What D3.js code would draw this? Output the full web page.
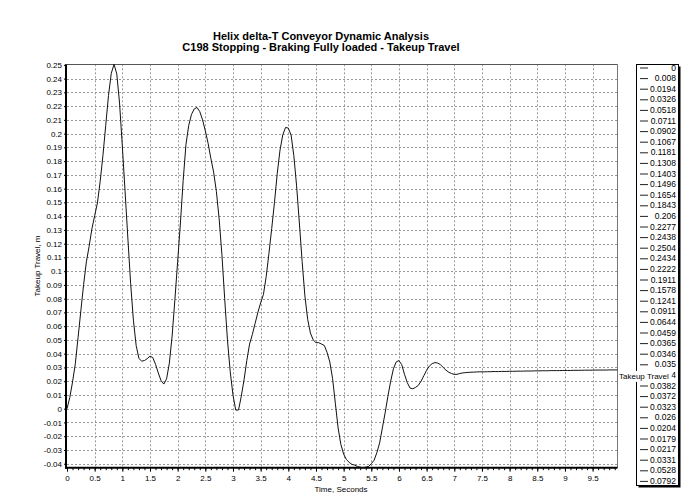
<!DOCTYPE html>
<html>
<head>
<meta charset="utf-8">
<script src="https://cdn.jsdelivr.net/npm/d3@7"></script>
<style>
  body { margin: 0; background: #fff; }
  svg { display: block; font-family: "Liberation Sans", Arial, sans-serif; }
  .tick text { font-size: 8px; fill: #000; }
  .tick line { stroke: #000; }
</style>
</head>
<body>
<div id="chart"></div>
<script>
// takeup travel (m), one sample every 0.05 s
var dt = 0.05;
var takeupStart = [0, 0.008, 0.0194, 0.0326, 0.0518, 0.0711, 0.0902, 0.1067, 0.1181, 0.1308,
  0.1403, 0.1496, 0.1654, 0.1843, 0.206, 0.2277, 0.2438, 0.2504, 0.2434, 0.2222,
  0.1911, 0.1578, 0.1241, 0.0911, 0.0644, 0.0459, 0.0365, 0.0346, 0.035, 0.0364,
  0.0382, 0.0372, 0.0323, 0.026, 0.0204, 0.0179, 0.0217, 0.0331, 0.0528, 0.0792];
var takeupPeaks = [0.107, 0.135, 0.166, 0.192, 0.206, 0.214, 0.218, 0.219, 0.216, 0.210,
  0.202, 0.193, 0.182, 0.172, 0.158, 0.138, 0.112, 0.080, 0.050, 0.027,
  0.010, -0.001, -0.001, 0.009, 0.021, 0.035, 0.047, 0.054, 0.062, 0.070,
  0.077, 0.083, 0.096, 0.113, 0.131, 0.150, 0.171, 0.188, 0.199, 0.2045,
  0.204, 0.199, 0.184, 0.162, 0.135, 0.107, 0.082, 0.065, 0.055, 0.050,
  0.048, 0.048, 0.047, 0.046, 0.041, 0.034, 0.022, 0.004, -0.014, -0.026];
var takeupDip = [-0.033, -0.037, -0.039, -0.0405, -0.041, -0.042, -0.0425, -0.0429, -0.0425, -0.042,
  -0.040, -0.0375, -0.032, -0.025, -0.014, -0.003, 0.009, 0.020, 0.029, 0.034,
  0.035, 0.032, 0.025, 0.019, 0.015, 0.0145, 0.0155, 0.017, 0.020, 0.024,
  0.028, 0.031, 0.0328, 0.0335, 0.0332, 0.032, 0.030, 0.028, 0.0265, 0.0256,
  0.0249, 0.0250, 0.0256, 0.0260, 0.0262, 0.0264, 0.0265, 0.0266, 0.0267, 0.0268, 0.0268];
var takeupTail = [0.0268, 0.0269, 0.0269, 0.0270, 0.0270, 0.0270, 0.0271, 0.0271, 0.0271, 0.0272,
  0.0272, 0.0272, 0.0273, 0.0273, 0.0273, 0.0274, 0.0274, 0.0274, 0.0275, 0.0275,
  0.0275, 0.0276, 0.0276, 0.0276, 0.0277, 0.0277, 0.0277, 0.0277, 0.0278, 0.0278,
  0.0278, 0.0278, 0.0279, 0.0279, 0.0279, 0.0279, 0.028, 0.028, 0.028, 0.028,
  0.0281, 0.0281, 0.0281, 0.0281, 0.0281, 0.0282, 0.0282, 0.0282, 0.0282];

var xTicks = [0, 0.5, 1, 1.5, 2, 2.5, 3, 3.5, 4, 4.5, 5, 5.5, 6, 6.5, 7, 7.5, 8, 8.5, 9, 9.5];
var yTicks = [-0.04, -0.03, -0.02, -0.01, 0, 0.01, 0.02, 0.03, 0.04, 0.05, 0.06, 0.07, 0.08, 0.09,
  0.1, 0.11, 0.12, 0.13, 0.14, 0.15, 0.16, 0.17, 0.18, 0.19, 0.2, 0.21, 0.22, 0.23, 0.24, 0.25];
var titleLines = ['Helix delta-T Conveyor Dynamic Analysis', 'C198 Stopping - Braking Fully loaded - Takeup Travel'];
var seriesName = 'Takeup Travel';

var values = takeupStart.concat(takeupPeaks, takeupDip, takeupTail);
var data = values.map(function(v, i) { return { t: i * dt, v: v }; });

var width = 691, height = 503;
var plotLeft = 67, plotRight = 617.5, plotTop = 64.3, plotBottom = 467.7;

var svg = d3.select('#chart').append('svg')
  .attr('width', width)
  .attr('height', height);

var x = d3.scaleLinear()
  .domain([0, data[data.length - 1].t])
  .range([plotLeft, plotRight]);

var y = d3.scaleLinear()
  .domain(d3.extent(values))
  .range([plotBottom, plotTop]);

// grid
svg.append('g')
  .selectAll('line')
  .data(yTicks.filter(function(d) { return d < 0.25; }))
  .enter().append('line')
  .attr('x1', plotLeft).attr('x2', plotRight)
  .attr('y1', function(d) { return Math.round(y(d)) + 0.5; })
  .attr('y2', function(d) { return Math.round(y(d)) + 0.5; })
  .attr('stroke', '#999')
  .attr('stroke-dasharray', '2,2');

svg.append('g')
  .selectAll('line')
  .data(xTicks.filter(function(d) { return d > 0; }))
  .enter().append('line')
  .attr('x1', function(d) { return Math.round(x(d)) + 0.5; })
  .attr('x2', function(d) { return Math.round(x(d)) + 0.5; })
  .attr('y1', plotTop).attr('y2', plotBottom)
  .attr('stroke', '#999')
  .attr('stroke-dasharray', '2,2');

// frame
svg.append('line').attr('x1', plotLeft).attr('x2', plotRight).attr('y1', 64.5).attr('y2', 64.5)
  .attr('stroke', '#555');
svg.append('line').attr('x1', 617.5).attr('x2', 617.5).attr('y1', plotTop).attr('y2', plotBottom)
  .attr('stroke', '#777');

// axes
var yAxis = d3.axisLeft(y)
  .tickValues(yTicks)
  .tickSize(3)
  .tickPadding(2)
  .tickFormat(function(d) { return String(+d.toFixed(2)); });

svg.append('g')
  .attr('transform', 'translate(' + plotLeft + ',0)')
  .call(yAxis)
  .call(function(g) { g.select('.domain').remove(); });

var xAxis = d3.axisBottom(x)
  .tickValues(xTicks)
  .tickSize(4)
  .tickPadding(4)
  .tickFormat(function(d) { return String(d); });

svg.append('g')
  .attr('transform', 'translate(0,' + plotBottom + ')')
  .call(xAxis)
  .call(function(g) { g.select('.domain').remove(); });

var minor = d3.range(0, 100).map(function(i) { return i / 10; });
svg.append('g')
  .attr('transform', 'translate(0,' + plotBottom + ')')
  .call(d3.axisBottom(x).tickValues(minor).tickSize(2.5).tickFormat(''))
  .call(function(g) { g.select('.domain').remove(); });

svg.append('line').attr('x1', plotLeft - 1).attr('x2', plotLeft - 1).attr('y1', plotTop).attr('y2', plotBottom + 1)
  .attr('stroke', '#000').attr('stroke-width', 2);
svg.append('line').attr('x1', plotLeft - 2).attr('x2', plotRight).attr('y1', plotBottom).attr('y2', plotBottom)
  .attr('stroke', '#000').attr('stroke-width', 2);

// the series
var line = d3.line()
  .x(function(d) { return x(d.t); })
  .y(function(d) { return y(d.v); });

svg.append('path')
  .datum(data)
  .attr('d', line)
  .attr('fill', 'none')
  .attr('stroke', '#111')
  .attr('stroke-width', 1);

// titles
svg.selectAll('.title')
  .data(titleLines)
  .enter().append('text')
  .attr('class', 'title')
  .attr('x', 321)
  .attr('y', function(d, i) { return 40 + i * 11; })
  .attr('text-anchor', 'middle')
  .attr('font-size', '11px')
  .attr('font-weight', 'bold')
  .text(function(d) { return d; });

svg.append('text')
  .attr('x', 341)
  .attr('y', 492)
  .attr('text-anchor', 'middle')
  .attr('font-size', '8px')
  .text('Time, Seconds');

svg.append('text')
  .attr('transform', 'translate(40,266) rotate(-90)')
  .attr('text-anchor', 'middle')
  .attr('font-size', '8px')
  .text('Takeup Travel, m');

// legend box (lists the first samples)
var lx = 636, ly = 64, lw = 42, lh = 421;
svg.append('rect')
  .attr('x', lx + 2.5).attr('y', ly + 2.5).attr('width', lw).attr('height', lh)
  .attr('fill', '#000');
svg.append('rect')
  .attr('x', lx + 0.5).attr('y', ly + 0.5).attr('width', lw).attr('height', lh)
  .attr('fill', '#fff').attr('stroke', '#000');

var rowH = 10.6;
var rows = svg.append('g')
  .selectAll('g')
  .data(takeupStart)
  .enter().append('g')
  .attr('transform', function(d, i) { return 'translate(0,' + (67.5 + i * rowH) + ')'; });

rows.append('line')
  .attr('x1', 640).attr('x2', 648).attr('y1', 0.5).attr('y2', 0.5)
  .attr('stroke', '#222');

rows.append('text')
  .attr('x', 676)
  .attr('y', 3)
  .attr('text-anchor', 'end')
  .attr('font-size', '8.5px')
  .text(function(d) { return String(d); });

// series label at the end of the line
var last = data[data.length - 1];
var lab = svg.append('g')
  .attr('transform', 'translate(' + (x(last.t) + 1) + ',' + (y(last.v) + 1) + ')');
lab.append('rect')
  .attr('x', 0).attr('y', 0).attr('width', 53).attr('height', 11)
  .attr('fill', '#fff');
lab.append('text')
  .attr('x', 0.5)
  .attr('y', 8)
  .attr('font-size', '8px')
  .text(seriesName);
</script>
</body>
</html>
